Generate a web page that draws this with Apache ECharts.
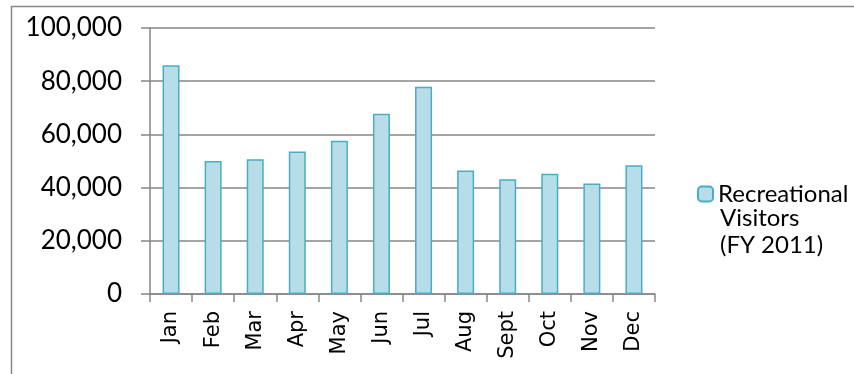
<!DOCTYPE html>
<html>
<head>
<meta charset="utf-8">
<script src="https://cdn.jsdelivr.net/npm/echarts@6/dist/echarts.min.js"></script>
<style>
  html, body { margin: 0; padding: 0; background: #fff; }
  #c1 { width: 854px; height: 374px; }
</style>
</head>
<body>
<div id="c1"></div>
<script>
// data
var months = ['Jan', 'Feb', 'Mar', 'Apr', 'May', 'Jun', 'Jul', 'Aug', 'Sept', 'Oct', 'Nov', 'Dec']
var visitors = [86000, 50000, 50700, 53600, 57600, 67800, 77900, 46400, 43100, 45200, 41500, 48400]
var seriesName = 'Recreational Visitors (FY 2011)'
var legendLines = ['Recreational', 'Visitors', '(FY 2011)']

var gray = '#868686'
var myChart = echarts.init(document.getElementById('c1'))
var option = {
  animation: false,
  textStyle: { fontFamily: 'Lato' },
  grid: {
    left: 150,
    right: 199,
    top: 28,
    bottom: 80
  },
  legend: {
    data: [seriesName],
    left: 697,
    top: 182,
    padding: 0,
    itemWidth: 15,
    itemHeight: 15,
    formatter: function () { return legendLines[0] },
    textStyle: { fontFamily: 'Lato', fontSize: 24, color: '#000' }
  },
  graphic: [
    {
      type: 'rect',
      z: -10,
      shape: { x: 11.5, y: 6.5, width: 900, height: 400 },
      style: { fill: 'none', stroke: gray, lineWidth: 1.5 }
    },
    {
      type: 'text',
      x: 720,
      y: 218,
      style: { text: legendLines[1], font: '24px Lato', fill: '#000', verticalAlign: 'middle' }
    },
    {
      type: 'text',
      x: 720,
      y: 245,
      style: { text: legendLines[2], font: '24px Lato', fill: '#000', verticalAlign: 'middle' }
    }
  ],
  xAxis: {
    type: 'category',
    data: months,
    axisLine: { show: true, lineStyle: { color: gray, width: 1.5 } },
    axisTick: { show: true, length: 8, lineStyle: { color: gray, width: 1.5 } },
    axisLabel: {
      rotate: 90,
      margin: 17,
      interval: 0,
      fontFamily: 'DejaVu Sans',
      fontSize: 21,
      color: '#000'
    }
  },
  yAxis: {
    type: 'value',
    min: 0,
    max: 100000,
    interval: 20000,
    axisLine: { show: true, lineStyle: { color: gray, width: 1.5 } },
    axisTick: { show: true, length: 9, lineStyle: { color: gray, width: 1.5 } },
    axisLabel: {
      margin: 28,
      fontFamily: 'Lato',
      fontSize: 26,
      color: '#000',
      formatter: function (v) { return v.toLocaleString('en-US') }
    },
    splitLine: { show: true, lineStyle: { color: gray, width: 1.5 } }
  },
  series: [
    {
      name: seriesName,
      type: 'bar',
      data: visitors,
      barWidth: 17,
      itemStyle: {
        color: '#B7DEE8',
        borderColor: '#4BACC6',
        borderWidth: 1.5
      }
    }
  ]
}
myChart.setOption(option)
</script>
</body>
</html>
